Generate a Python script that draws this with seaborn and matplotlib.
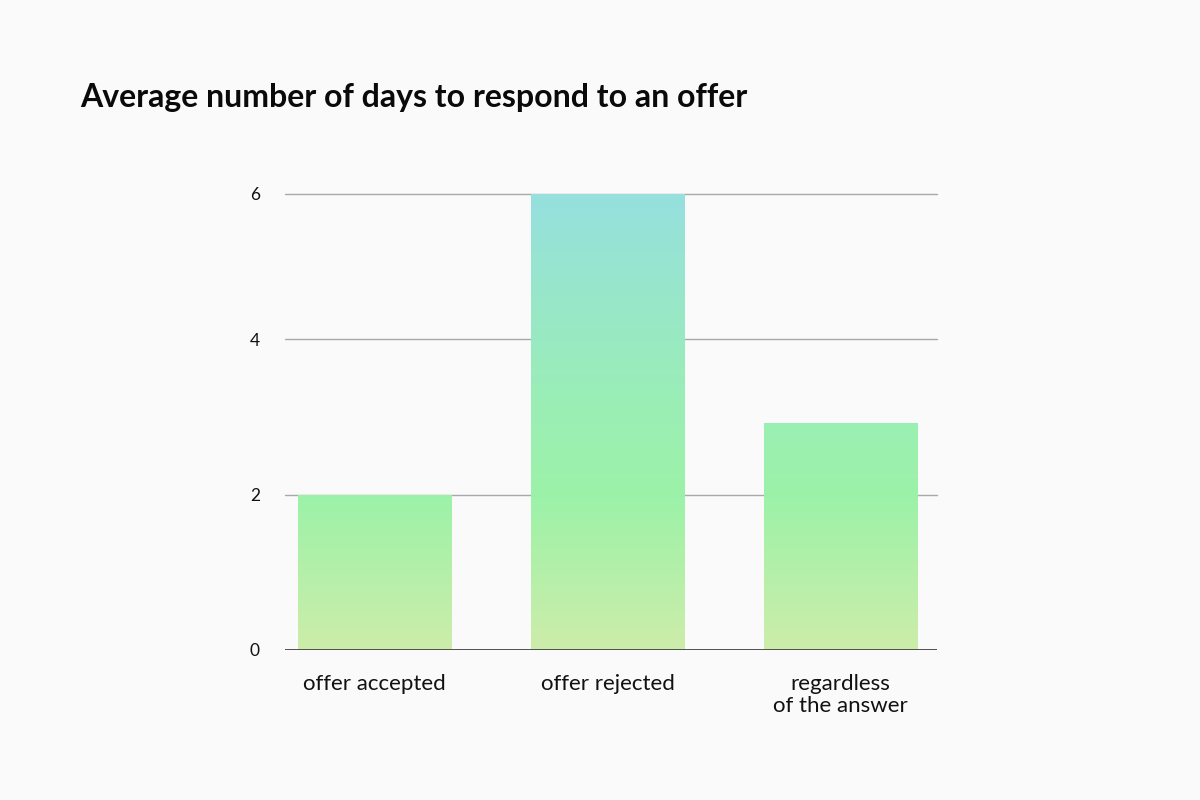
import numpy as np
import pandas as pd
import matplotlib
matplotlib.use("Agg")
import matplotlib.pyplot as plt
import seaborn as sns
from matplotlib.colors import LinearSegmentedColormap

categories = ["offer accepted", "offer rejected", "regardless\nof the answer"]
values = [2.0, 5.87, 2.92]
ytick_values = [0, 2, 4, 5.87]
ytick_labels = ["0", "2", "4", "6"]
title = "Average number of days to respond to an offer"

df = pd.DataFrame({"category": categories, "days": values})

sns.set_theme(style="white")
plt.rcParams["font.family"] = ["Lato", "DejaVu Sans"]

bg = "#fafafa"
ymax = max(ytick_values)
fig = plt.figure(figsize=(12, 8), dpi=100, facecolor=bg)
ax = fig.add_axes([285/1200, 1-650/800, (937-285)/1200, (650-194)/800])
ax.set_facecolor(bg)

sns.barplot(data=df, x="category", y="days", ax=ax, width=0.657,
            color="#9cf0a8", edgecolor="none", linewidth=0, zorder=2)

cmap = LinearSegmentedColormap.from_list("g", [
    (0.0, (205/255, 237/255, 170/255)),
    (0.33, (157/255, 242/255, 168/255)),
    (0.55, (154/255, 238/255, 182/255)),
    (1.0, (150/255, 224/255, 222/255)),
])
grad = np.linspace(0, 1, 256).reshape(-1, 1)
for p in list(ax.patches):
    x0 = p.get_x()
    w = p.get_width()
    im = ax.imshow(grad, cmap=cmap, origin="lower", aspect="auto",
                   extent=[x0, x0 + w, 0, ymax], zorder=2.5,
                   interpolation="bilinear")
    im.set_clip_path(p)
    p.set_alpha(0)
ax.set_xlim(-0.384, 2.414)
ax.set_ylim(0, ymax)

for t in ytick_values[1:]:
    ax.axhline(t, color="#a8a8a8", lw=1.0, zorder=1, clip_on=False)
ax.axhline(0, color="#444444", lw=1.3, zorder=3)

ax.set_yticks(ytick_values)
ax.set_yticklabels(ytick_labels)
ax.tick_params(axis="y", length=0, pad=18, labelsize=12.5, labelcolor="#111111")
ax.tick_params(axis="x", length=0, pad=17, labelsize=16, labelcolor="#111111")
for lab in ax.get_xticklabels():
    lab.set_linespacing(1.15)
ax.set_xlabel("")
ax.set_ylabel("")
for s in ax.spines.values():
    s.set_visible(False)
ax.grid(False)

fig.text(80/1200, 1-97/800, title, fontsize=23, fontweight="bold",
         color="#0a0a0a", va="center", ha="left")

fig.savefig("out.png", dpi=100, facecolor=bg)
